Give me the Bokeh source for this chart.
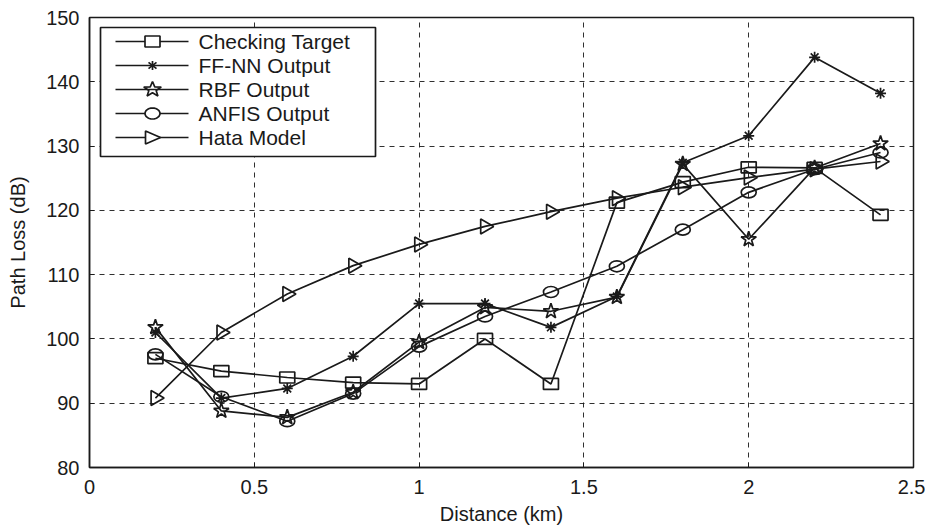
from bokeh.plotting import figure
from bokeh.models import FixedTicker, ColumnDataSource, PolyAnnotation, Label
from bokeh.embed import file_html
from bokeh.resources import INLINE
import math

# Distance (km) and path loss (dB) of each model
distance = [0.2, 0.4, 0.6, 0.8, 1.0, 1.2, 1.4, 1.6, 1.8, 2.0, 2.2, 2.4]
checking_target = [97.0, 95.0, 94.0, 93.2, 93.0, 100.0, 93.0, 121.2, 124.4, 126.7, 126.6, 119.3]
ffnn_output = [101.0, 90.8, 92.3, 97.3, 105.5, 105.5, 101.8, 106.6, 127.4, 131.6, 143.8, 138.2]
rbf_output = [101.8, 88.8, 87.8, 91.7, 99.5, 104.9, 104.3, 106.5, 127.2, 115.5, 126.6, 130.4]
anfis_output = [97.6, 91.0, 87.2, 91.5, 98.8, 103.5, 107.3, 111.3, 117.0, 122.8, 126.4, 129.0]
hata_model = [90.8, 101.0, 107.0, 111.4, 114.7, 117.5, 119.8, 121.9, 123.6, 125.1, 126.4, 127.6]

series_names = ["Checking Target", "FF-NN Output", "RBF Output", "ANFIS Output", "Hata Model"]
x_ticks = [0, 0.5, 1, 1.5, 2, 2.5]
x_tick_labels = ["0", "0.5", "1", "1.5", "2", "2.5"]
y_ticks = [80, 90, 100, 110, 120, 130, 140, 150]

FONT = "Liberation Sans"
INK = "#1a1a1a"
LW = 1.7

p = figure(width=925, height=530, x_range=(0, 2.5), y_range=(80, 150),
           output_backend="svg", toolbar_location=None,
           min_border_left=89, min_border_right=12, min_border_top=17, min_border_bottom=63)

p.outline_line_color = INK
p.outline_line_width = 1.5

xa, ya = p.below[0], p.left[0]
for ax in (xa, ya):
    ax.axis_line_color = INK
    ax.axis_line_width = 1.5
    ax.major_tick_in = 5
    ax.major_tick_out = 0
    ax.minor_tick_line_color = None
    ax.major_tick_line_color = INK
    ax.major_label_text_font = FONT
    ax.major_label_text_font_size = "20px"
    ax.major_label_text_color = INK
    ax.axis_label_text_font = FONT
    ax.axis_label_text_font_size = "20px"
    ax.axis_label_text_font_style = "normal"
    ax.axis_label_text_color = INK

xa.ticker = FixedTicker(ticks=x_ticks)
xa.major_label_overrides = {t: s for t, s in zip(x_ticks, x_tick_labels)}
ya.ticker = FixedTicker(ticks=y_ticks)
xa.axis_label = "Distance (km)"
ya.axis_label = "Path Loss (dB)"
xa.major_label_standoff = 12
ya.major_label_standoff = 10
xa.axis_label_standoff = 6
ya.axis_label_standoff = 14

for g in (p.xgrid[0], p.ygrid[0]):
    g.grid_line_color = INK
    g.grid_line_dash = "5 5"
    g.grid_line_width = 1
    g.grid_line_alpha = 0.9


def add_line(y):
    p.line(distance, y, line_color=INK, line_width=LW)

# Checking target: open squares
add_line(checking_target)
p.rect("x", "y", width=15, height=11, width_units="screen", height_units="screen",
       fill_color=None, line_color=INK, line_width=LW,
       source=ColumnDataSource(dict(x=distance, y=checking_target)))

# FF-NN: asterisks
add_line(ffnn_output)
p.scatter(distance, ffnn_output, marker="asterisk", size=11, line_color=INK, line_width=LW)

# RBF: stars
add_line(rbf_output)
p.scatter(distance, rbf_output, marker="star", size=16, fill_color=None, line_color=INK, line_width=LW)

# ANFIS: open ellipses
add_line(anfis_output)
p.ellipse("x", "y", width=15, height=11, width_units="screen", height_units="screen",
          fill_color=None, line_color=INK, line_width=LW,
          source=ColumnDataSource(dict(x=distance, y=anfis_output)))

# Hata model: right-pointing triangles
add_line(hata_model)
p.scatter(distance, hata_model, marker="triangle", size=15, angle=-math.pi / 2,
          fill_color=None, line_color=INK, line_width=LW)

# ---- legend box, drawn in frame pixels (origin at the frame's lower-left corner)
BOX_L, BOX_R, BOX_T, BOX_B = 11, 286, 440, 311
ROW0, ROW_STEP = 426, -24
LINE_X0, LINE_X1, MARK_X, TEXT_X = 26, 99, 63, 109


def poly(xs, ys, fill=None):
    p.add_layout(PolyAnnotation(xs=xs, ys=ys, xs_units="screen", ys_units="screen",
                                fill_color=fill, fill_alpha=1 if fill else 0,
                                line_color=INK, line_alpha=1, line_width=LW))


poly([BOX_L, BOX_R, BOX_R, BOX_L], [BOX_B, BOX_B, BOX_T, BOX_T], fill="white")


def marker_shape(kind, cx, cy):
    if kind == "square":
        return [[cx - 7.5, cx + 7.5, cx + 7.5, cx - 7.5], [cy - 5.5, cy - 5.5, cy + 5.5, cy + 5.5]]
    if kind == "ellipse":
        n = 28
        return [[cx + 7.5 * math.cos(2 * math.pi * k / n) for k in range(n)],
                [cy + 5.5 * math.sin(2 * math.pi * k / n) for k in range(n)]]
    if kind == "star":
        xs, ys = [], []
        for k in range(10):
            r = 8 if k % 2 == 0 else 3.3
            a = math.pi / 2 + k * math.pi / 5
            xs.append(cx + 1.15 * r * math.cos(a))
            ys.append(cy + r * math.sin(a))
        return [xs, ys]
    if kind == "triangle":
        return [[cx - 7, cx + 8, cx - 7], [cy + 6.5, cy, cy - 6.5]]
    return None


kinds = ["square", "asterisk", "star", "ellipse", "triangle"]
for i, (name, kind) in enumerate(zip(series_names, kinds)):
    cy = ROW0 + i * ROW_STEP
    poly([LINE_X0, LINE_X1], [cy, cy])
    if kind == "asterisk":
        for dx, dy in [(0, 4.5), (4, 3.2), (-4, 3.2)]:
            poly([MARK_X - dx, MARK_X + dx], [cy - dy, cy + dy])
    else:
        xs, ys = marker_shape(kind, MARK_X, cy)
        poly(xs, ys, fill="white" if kind != "star" else None)
    p.add_layout(Label(x=TEXT_X, y=cy, x_units="screen", y_units="screen", text=name,
                       text_font=FONT, text_font_size="21px", text_color=INK,
                       text_baseline="middle", text_align="left"))

open("out.html", "w").write(file_html(p, INLINE))
